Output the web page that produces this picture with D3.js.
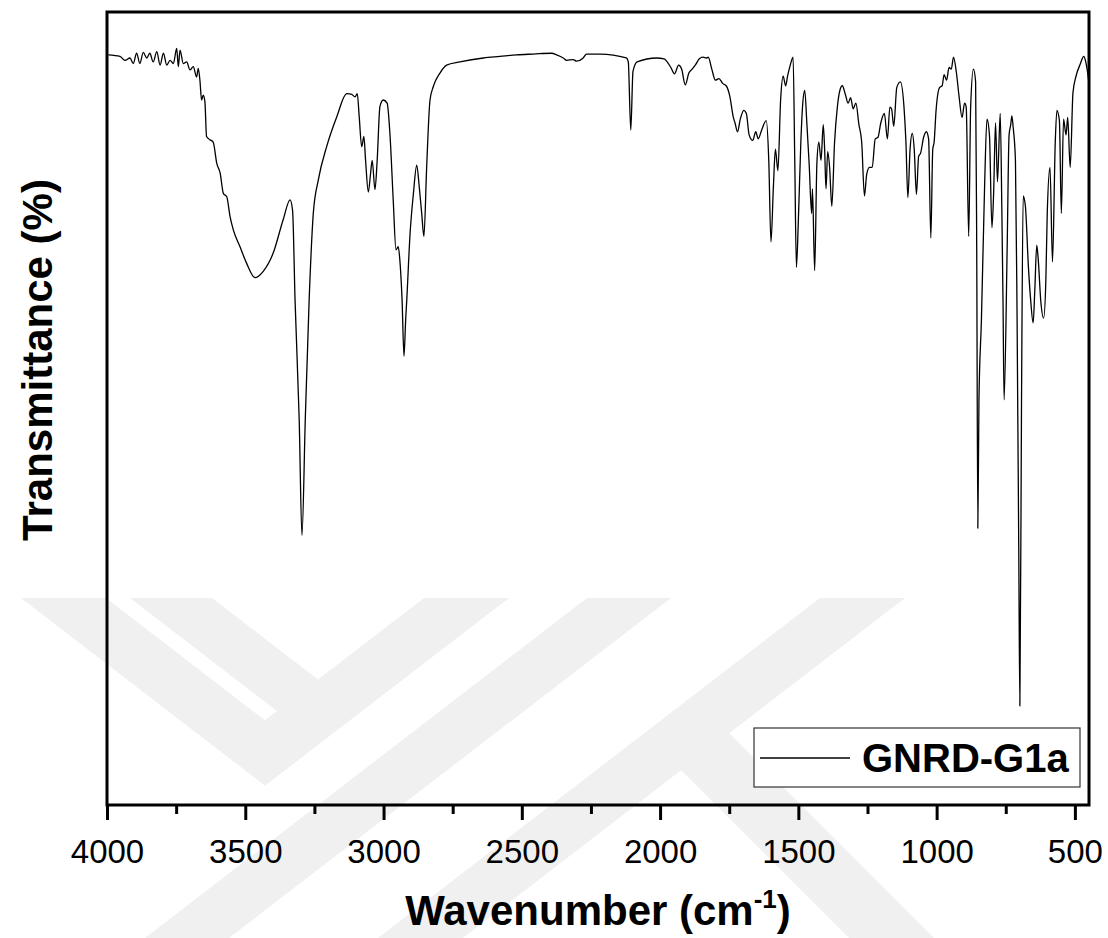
<!DOCTYPE html>
<html>
<head>
<meta charset="utf-8">
<script src="https://cdn.jsdelivr.net/npm/d3@7/dist/d3.min.js"></script>
<style>
  html, body { margin: 0; padding: 0; background: #fff; }
  svg { display: block; font-family: Arial, "Liberation Sans", sans-serif; }
</style>
</head>
<body>
<svg id="chart" width="1108" height="938"></svg>
<script>
// FTIR spectrum of GNRD-G1a: wavenumber (cm-1) and transmittance (%)
const wavenumber = [
  3995,3953,3935,3917,3905,3893,3881,3869,3856,3845,3833,3820,3808,3796,3784,3772,3760,3748,3742,3736,
  3724,3712,3700,3688,3676,3670,3664,3658,3652,3646,3640,3628,3616,3603,3591,3579,3567,3555,3543,3519,
  3495,3465,3435,3399,3363,3338,3329,3320,3305,3295,3283,3269,3254,3236,3206,3169,3133,3115,3103,3095,
  3088,3079,3071,3065,3055,3047,3041,3031,3023,3013,3001,2987,2977,2965,2955,2947,2941,2933,2926,2920,
  2916,2904,2892,2880,2871,2862,2854,2844,2832,2820,2796,2772,2724,2639,2579,2519,2459,2392,2374,2350,
  2338,2314,2302,2278,2266,2217,2122,2115,2106,2098,2083,2012,1986,1961,1948,1933,1922,1909,1896,1884,
  1871,1858,1845,1832,1826,1813,1800,1787,1774,1761,1748,1735,1729,1720,1710,1697,1688,1678,1665,1654,
  1645,1633,1616,1607,1599,1590,1583,1574,1564,1555,1546,1539,1530,1519,1513,1507,1500,1491,1485,1477,
  1469,1461,1452,1449,1441,1433,1426,1418,1410,1405,1400,1394,1387,1379,1369,1359,1350,1341,1330,1320,
  1311,1302,1292,1281,1271,1261,1253,1243,1233,1222,1212,1202,1189,1178,1169,1163,1155,1144,1131,1118,
  1111,1104,1096,1088,1081,1073,1065,1058,1047,1037,1029,1021,1014,1009,1002,989,980,973,964,955,
  947,939,929,919,908,899,893,884,877,867,859,855,851,847,838,826,818,809,800,794,
  787,780,770,764,760,756,745,738,732,728,723,715,709,703,699,693,687,679,668,660,
  651,645,638,633,623,613,605,600,590,581,571,565,556,549,541,532,526,517,507,496,
  481,468,462,453,449
];
const transmittance = [
  94.6,94.4,93.9,94.2,93.5,94.8,93.5,94.9,94.2,94.8,93.7,95.0,93.3,94.8,93.3,93.9,93.5,95.4,93.1,95.2,
  93.5,93.7,92.7,93.1,91.8,92.9,91.4,88.9,89.5,88.7,84.3,83.9,83.6,80.9,79.7,77.1,76.7,74.2,72.5,70.4,
  68.3,66.5,67.3,69.6,73.8,76.3,75.0,63.7,48.6,34.0,48.6,63.7,74.6,78.8,83.0,86.8,89.7,89.6,89.3,89.7,
  86.8,83.0,84.3,81.3,77.3,79.6,81.3,77.6,81.3,88.1,88.9,88.5,84.7,76.3,70.0,70.4,68.7,63.7,56.6,61.2,
  63.7,72.1,77.1,80.7,78.0,74.6,71.7,80.5,88.9,90.6,92.3,93.3,93.7,94.2,94.4,94.6,94.7,94.8,94.6,94.2,
  93.9,94.0,93.8,94.2,94.7,94.7,94.2,93.7,85.1,92.5,93.7,94.2,94.1,93.0,92.2,93.3,92.8,90.8,92.3,92.8,
  93.4,94.1,94.3,94.2,94.3,92.8,91.4,91.6,91.0,90.7,89.4,86.7,86.0,84.9,86.5,87.6,87.2,84.5,83.8,84.9,
  84.0,85.1,86.3,81.3,71.0,78.2,82.7,80.0,89.0,91.9,90.7,91.9,93.2,94.3,81.3,67.8,73.7,83.6,88.0,90.1,
  85.8,80.9,74.6,77.7,67.4,80.9,83.6,81.3,85.8,82.7,77.7,82.4,80.4,75.5,83.6,88.0,90.1,90.7,89.6,88.5,
  89.2,87.8,88.5,85.8,83.6,76.8,79.5,80.4,80.4,84.0,84.2,86.0,87.2,84.0,88.0,87.8,85.6,90.5,91.2,88.0,
  83.6,76.6,82.7,84.7,82.7,77.0,81.8,82.2,84.2,84.9,84.0,71.5,82.7,83.6,87.6,90.5,90.7,92.1,91.4,93.0,
  92.8,94.3,92.5,89.4,86.7,88.5,88.0,71.7,88.0,92.8,91.2,70.0,34.9,50.9,61.2,78.8,86.5,84.5,72.8,77.0,
  86.0,78.6,87.2,74.6,63.7,51.1,70.1,84.5,85.8,86.9,85.4,81.3,61.2,32.2,12.5,51.1,76.8,75.5,67.8,63.7,
  60.8,64.9,70.6,69.0,63.4,61.4,66.2,74.6,80.4,68.5,83.6,87.6,86.3,74.6,86.5,84.5,86.7,80.4,89.8,91.9,
  93.4,94.4,93.9,92.1,91.0
];
const majorTicks = [4000, 3500, 3000, 2500, 2000, 1500, 1000, 500];
const minorTicks = [3750, 3250, 2750, 2250, 1750, 1250, 750];
const seriesName = "GNRD-G1a";

const svg = d3.select("#chart");
const W = 1108, H = 938;
const margin = { left: 107, right: 19, top: 12, bottom: 133 };
const plotW = W - margin.left - margin.right;
const plotH = H - margin.top - margin.bottom;

svg.append("rect").attr("width", W).attr("height", H).attr("fill", "#fff");

// Faint background emblem made of diagonal bands
const emblem = svg.append("g").attr("fill", "#f0f0f0");
const k = 1.3, y0 = 598, yEnd = H;
const band = pts => emblem.append("polygon").attr("points", pts.map(p => p.join(",")).join(" "));
// outer chevron
band([[21, y0], [106, y0], [265, y0 + 318 / (2 * k)], [424, y0], [509, y0], [265, y0 + 488 / (2 * k)]]);
// inner stroke meeting the chevron's right arm
band([[130, y0], [212, y0], [212 + k * 212 / (2 * k), y0 + 212 / (2 * k)], [130 + k * 294 / (2 * k), y0 + 294 / (2 * k)]]);
// long rising strokes
band([[587, y0], [671, y0], [671 - k * (yEnd - y0), yEnd], [587 - k * (yEnd - y0), yEnd]]);
band([[820, y0], [905, y0], [905 - k * (yEnd - y0), yEnd], [820 - k * (yEnd - y0), yEnd]]);
// branch leaving the last stroke
band([[681, 770], [729, 733], [934, yEnd], [849, yEnd]]);

const x = d3.scaleLinear().domain([4000, 449]).range([margin.left, margin.left + plotW]);
const y = d3.scaleLinear().domain([0, 100]).range([margin.top + plotH, margin.top]);

const data = wavenumber.map((w, i) => ({ w, t: transmittance[i] }));

svg.append("clipPath").attr("id", "plotClip")
  .append("rect").attr("x", margin.left).attr("y", margin.top).attr("width", plotW).attr("height", plotH);

const line = d3.line().x(d => x(d.w)).y(d => y(d.t)).curve(d3.curveMonotoneX);

svg.append("path").datum(data)
  .attr("clip-path", "url(#plotClip)")
  .attr("fill", "none").attr("stroke", "#000").attr("stroke-width", 1.3)
  .attr("stroke-linejoin", "round")
  .attr("d", line);

// bottom axis: minor then major ticks
const axisY = margin.top + plotH;
const minorAxis = svg.append("g").attr("transform", `translate(0,${axisY})`)
  .call(d3.axisBottom(x).tickValues(minorTicks).tickSize(9).tickFormat(""));
const majorAxis = svg.append("g").attr("transform", `translate(0,${axisY})`)
  .call(d3.axisBottom(x).tickValues(majorTicks).tickSize(15).tickPadding(20).tickFormat(d3.format("d")));
[minorAxis, majorAxis].forEach(g => {
  g.select(".domain").remove();
  g.selectAll(".tick line").attr("stroke", "#000").attr("stroke-width", 3);
});
majorAxis.selectAll(".tick text")
  .attr("font-size", 33).attr("fill", "#000")
  .attr("font-family", "Arial, 'Liberation Sans', sans-serif");

// frame
svg.append("rect")
  .attr("x", margin.left).attr("y", margin.top).attr("width", plotW).attr("height", plotH)
  .attr("fill", "none").attr("stroke", "#000").attr("stroke-width", 3);

// legend
const lg = svg.append("g");
lg.append("rect").attr("x", 754).attr("y", 728).attr("width", 326).attr("height", 59)
  .attr("fill", "#fff").attr("stroke", "#333").attr("stroke-width", 1.2);
lg.append("line").attr("x1", 760).attr("x2", 850).attr("y1", 758).attr("y2", 758)
  .attr("stroke", "#000").attr("stroke-width", 1.3);
lg.append("text").attr("x", 862).attr("y", 772)
  .attr("font-size", 40).attr("font-weight", "bold").text(seriesName);

// axis titles
const xt = svg.append("text").attr("x", margin.left + plotW / 2).attr("y", 925)
  .attr("text-anchor", "middle").attr("font-size", 42).attr("font-weight", "bold");
xt.append("tspan").text("Wavenumber (cm");
xt.append("tspan").attr("font-size", 26).attr("dy", -17).text("-1");
xt.append("tspan").attr("dy", 17).text(")");

svg.append("text")
  .attr("transform", "translate(52,360) rotate(-90)")
  .attr("text-anchor", "middle").attr("font-size", 42).attr("font-weight", "bold")
  .text("Transmittance (%)");
</script>
</body>
</html>
